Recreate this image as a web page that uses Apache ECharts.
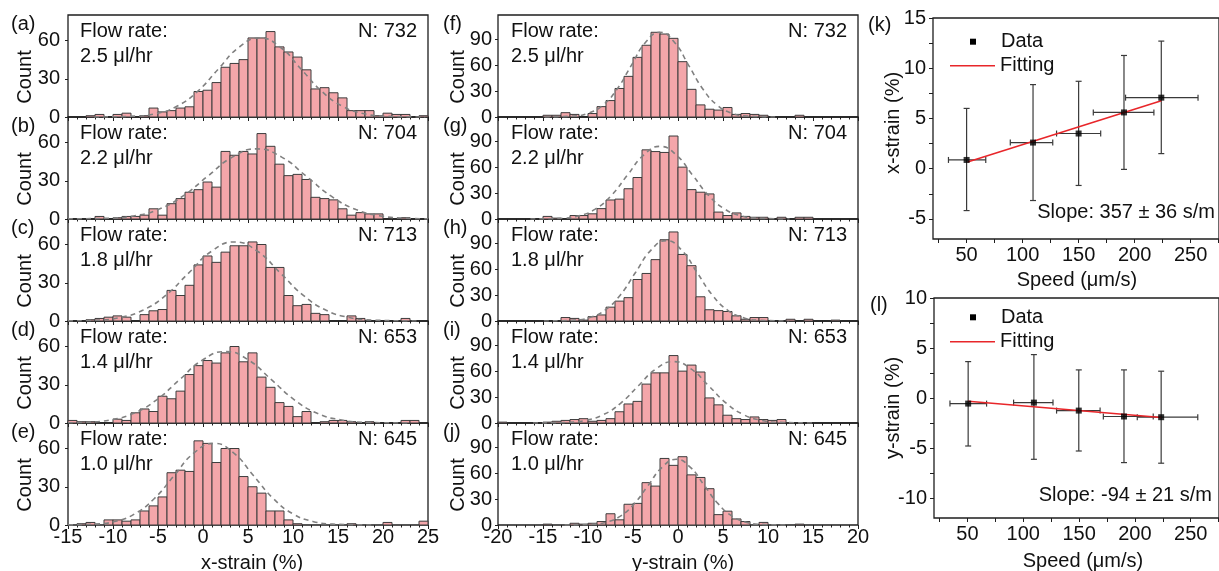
<!DOCTYPE html>
<html><head><meta charset="utf-8">
<script src="https://cdn.jsdelivr.net/npm/echarts@6/dist/echarts.min.js"></script>
<style>html,body{margin:0;padding:0;background:#fff}#c{width:1219px;height:571px}</style>
</head><body><div id="c"></div>
<script>
// ---------- DATA ----------
// x-strain histograms (bins of 1 %, starting at -15 %)
const xBinStart = -15;
const countsA = [0,0,1,2,0,2,3,0,1,7,4,5,7,8,20,21,27,39,42,45,62,62,67,55,51,47,37,22,23,19,15,5,5,5,1,3,2,2,0,1];
const countsB = [0,0,0,2,0,1,2,2,3,8,3,12,16,21,23,29,25,53,50,53,51,67,57,43,34,35,31,17,16,15,8,3,5,4,4,0,0,1,0,0];
const countsC = [0,0,1,2,3,4,3,0,5,8,9,24,20,28,44,51,46,54,59,59,62,60,42,42,20,12,13,6,5,0,0,4,2,0,0,0,0,2,0,0];
const countsD = [2,1,1,0,0,3,2,8,11,9,21,19,25,38,45,49,47,55,60,48,55,36,28,16,13,5,9,0,1,2,2,1,0,1,0,0,0,2,2,0];
const countsE = [0,1,2,0,4,4,3,4,11,15,22,41,43,42,66,64,49,60,60,38,30,25,11,11,4,1,0,0,0,0,0,1,0,0,0,2,0,0,0,3];
// y-strain histograms (bins of 1 %, starting at -20 %)
const yBinStart = -20;
const countsF = [0,0,0,0,0,2,2,5,3,0,4,12,19,33,47,69,83,98,96,91,64,32,14,9,8,11,3,4,3,2,0,0,0,2,0,0,0,0,0,0];
const countsG = [0,0,0,0,0,3,1,0,4,4,6,12,22,23,35,48,80,78,77,96,60,34,31,29,8,4,7,3,2,2,0,2,0,2,2,0,0,0,0,0];
const countsH = [0,0,0,0,0,0,0,4,3,1,5,7,16,23,27,48,55,71,94,103,77,64,28,13,12,11,6,2,4,4,0,0,2,0,2,0,0,1,0,0];
const countsI = [1,0,0,0,0,1,2,3,4,5,2,3,5,13,22,25,45,58,58,78,60,67,59,29,21,9,5,4,7,4,3,4,0,0,0,0,0,0,0,0];
const countsJ = [0,0,0,0,0,1,0,0,2,1,2,4,13,6,24,25,49,45,77,69,79,58,55,42,12,16,7,4,0,3,0,0,0,1,0,0,0,0,0,0];
// Gaussian fit curves (dashed)
const fitA = [[-12.1,0],[-7.5,0.7],[-5.2,2.7],[-2.9,8.4],[-0.6,20.1],[1.7,37.6],[4.0,54.7],[6.3,62],[8.6,54.7],[10.9,37.6],[13.2,20.1],[15.5,8.4],[17.8,2.7],[20.1,0.7],[24.7,0]];
const fitB = [[-15,0.1],[-10.5,0.6],[-7.75,2.4],[-5,7.4],[-2.25,17.9],[0.5,33.4],[3.25,48.5],[6,55],[8.75,48.5],[11.5,33.4],[14.25,17.9],[17,7.4],[19.75,2.4],[22.5,0.6],[25,0.1]];
const fitC = [[-15,0.1],[-11.8,0.7],[-9.25,2.7],[-6.7,8.4],[-4.15,20.1],[-1.6,37.6],[0.95,54.7],[3.5,62],[6.05,54.7],[8.6,37.6],[11.15,20.1],[13.7,8.4],[16.25,2.7],[18.8,0.7],[23.9,0]];
const fitD = [[-15,0.2],[-12.8,0.6],[-10.25,2.5],[-7.7,7.6],[-5.15,18.2],[-2.6,34],[-0.05,49.4],[2.5,56],[5.05,49.4],[7.6,34],[10.15,18.2],[12.7,7.6],[15.25,2.5],[17.8,0.6],[22.9,0]];
const fitE = [[-15,0.1],[-12,0.7],[-9.8,2.8],[-7.6,8.7],[-5.4,20.8],[-3.2,38.8],[-1.0,56.5],[1.2,64],[3.4,56.5],[5.6,38.8],[7.8,20.8],[10,8.7],[12.2,2.8],[14.4,0.7],[18.8,0]];
const fitF = [[-14.8,0],[-11.6,1.1],[-10,4.3],[-8.4,13.3],[-6.8,31.8],[-5.2,59.5],[-3.6,86.5],[-2,98],[-0.4,86.5],[1.2,59.5],[2.8,31.8],[4.4,13.3],[6,4.3],[7.6,1.1],[10.8,0]];
const fitG = [[-16.4,0],[-12.8,0.9],[-11,3.7],[-9.2,11.4],[-7.4,27.3],[-5.6,51],[-3.8,74.1],[-2,84],[-0.2,74.1],[1.6,51],[3.4,27.3],[5.2,11.4],[7,3.7],[8.8,0.9],[12.4,0]];
const fitH = [[-14.9,0],[-11.5,1.0],[-9.8,4.1],[-8.1,12.6],[-6.4,30.2],[-4.7,56.4],[-3.0,82],[-1.3,93],[0.4,82],[2.1,56.4],[3.8,30.2],[5.5,12.6],[7.2,4.1],[8.9,1.0],[12.3,0]];
const fitI = [[-16.1,0],[-12.2,0.8],[-10.25,3.1],[-8.3,9.6],[-6.35,23.1],[-4.4,43.1],[-2.45,62.6],[-0.5,71],[1.45,62.6],[3.4,43.1],[5.35,23.1],[7.3,9.6],[9.25,3.1],[11.2,0.8],[15.1,0]];
const fitJ = [[-12.6,0],[-9.5,0.8],[-7.95,3.3],[-6.4,10.3],[-4.85,24.7],[-3.3,46.1],[-1.75,67],[-0.2,76],[1.35,67],[2.9,46.1],[4.45,24.7],[6.0,10.3],[7.55,3.3],[9.1,0.8],[12.2,0]];
const flowRates = ['2.5','2.2','1.8','1.4','1.0'];
const cellCounts = ['732','704','713','653','645'];
const xTickLabelsHist = [-15,-10,-5,0,5,10,15,20,25];
const yTickLabelsHist = [-20,-15,-10,-5,0,5,10,15,20];
// (k) x-strain vs speed
const speedK   = [50.0, 109.3, 150.0, 190.5, 223.8];
const speedLoK = [33.8, 89.0, 130.3, 163.1, 191.9];
const speedHiK = [67.1, 126.9, 169.7, 217.2, 256.6];
const xStrain   = [0.87, 2.6, 3.5, 5.6, 7.07];
const xStrainLo = [-4.17, -3.17, -1.67, -0.07, 1.5];
const xStrainHi = [6.0, 8.37, 8.7, 11.27, 12.7];
const fitK = [[50.9,0.66],[223.8,6.76]];
// (l) y-strain vs speed
const speedL   = [50.6, 109.5, 149.7, 190.2, 223.5];
const speedLoL = [34.3, 91.3, 129.8, 171.7, 202.1];
const speedHiL = [67.1, 126.6, 168.8, 216.4, 256.3];
const yStrain   = [-0.56, -0.46, -1.26, -1.85, -1.92];
const yStrainLo = [-4.8, -6.13, -5.3, -6.46, -6.52];
const yStrainHi = [3.64, 4.34, 2.81, 2.81, 2.68];
const fitL = [[50.6,-0.33],[223.5,-1.95]];
const speedTicks = [50,100,150,200,250];

// ---------- CHART ----------
const FONT = 'Liberation Sans';
const TXT = '#111';
const BORDER = '#1e1e1e';
const chart = echarts.init(document.getElementById('c'), null, {renderer:'canvas'});

const tops = [15,117,219,321,423];
const PH = 102;
const grids = [], xAxes = [], yAxes = [], series = [], graphics = [];
const histSets = [
  [countsA,fitA],[countsB,fitB],[countsC,fitC],[countsD,fitD],[countsE,fitE],
  [countsF,fitF],[countsG,fitG],[countsH,fitH],[countsI,fitI],[countsJ,fitJ]
];
const letters = ['(a)','(b)','(c)','(d)','(e)','(f)','(g)','(h)','(i)','(j)'];

function txt(text, x, y, align, opt) {
  return Object.assign({type:'text', x:x, y:y, z:100, style:{text:text, fontSize:20, fontFamily:FONT, fill:TXT, align:align||'left', verticalAlign:'middle'}}, opt||{});
}

histSets.forEach((set, i) => {
  const col = i < 5 ? 0 : 1;
  const row = i % 5;
  const left = col === 0 ? 68 : 498;
  const top = tops[row];
  const start = col === 0 ? xBinStart : yBinStart;
  const labels = col === 0 ? xTickLabelsHist : yTickLabelsHist;
  grids.push({left:left, top:top, width:360, height:PH, show:true, borderColor:BORDER, borderWidth:1.3, backgroundColor:'transparent'});
  xAxes.push({type:'value', gridIndex:i, min:labels[0], max:labels[labels.length-1], interval:5,
    axisLine:{show:false, onZero:false}, splitLine:{show:false},
    axisTick:{show:true, length:4, lineStyle:{color:BORDER, width:1}},
    minorTick:{show:true, splitNumber:5, length:2.5, lineStyle:{color:BORDER, width:1}},
    axisLabel:{show: row === 4, fontSize:20, fontFamily:FONT, color:TXT, margin:2}});
  yAxes.push({type:'value', gridIndex:i, min:0, max: col === 0 ? 80 : 118, interval:30,
    axisLine:{show:false, onZero:false}, splitLine:{show:false},
    axisTick:{show:true, length:3, lineStyle:{color:BORDER}},
    axisLabel:{fontSize:20, fontFamily:FONT, color:TXT, margin: col === 0 ? 8 : 6, showMaxLabel:false}});
  const counts = set[0];
  const data = [];
  counts.forEach((c, k) => { if (c > 0) data.push([start + k, start + k + 1, c]); });
  series.push({type:'custom', xAxisIndex:i, yAxisIndex:i, data:data, encode:{x:[0,1], y:2}, z:2,
    renderItem:(params, api) => {
      const p0 = api.coord([api.value(0), api.value(2)]);
      const p1 = api.coord([api.value(1), 0]);
      return {type:'rect', shape:{x:p0[0], y:p0[1], width:p1[0]-p0[0], height:p1[1]-p0[1]},
        style:{fill:'#f4a6aa', stroke:'#3c3c3c', lineWidth:1}};
    }});
  series.push({type:'line', xAxisIndex:i, yAxisIndex:i, data:set[1], smooth:true, showSymbol:false, symbol:'none', z:3,
    lineStyle:{color:'#808080', width:1.6, type:[5,4]}});
  // texts
  const tx = col === 0 ? 80 : 511;
  const nx = col === 0 ? 417 : 847;
  graphics.push(txt('Flow rate:', tx, top + 16, 'left'));
  graphics.push(txt(flowRates[row] + ' \u03bcl/hr', tx, top + 41, 'left'));
  graphics.push(txt('N: ' + cellCounts[row], nx, top + 16, 'right'));
  graphics.push(txt(letters[i], col === 0 ? 11 : 443, top + 9, 'left'));
  graphics.push(txt('Count', col === 0 ? 25 : 458, top + 62, 'center', {rotation: Math.PI/2}));
});
graphics.push(txt('x-strain (%)', 252, 563, 'center'));
graphics.push(txt('y-strain (%)', 683, 563, 'center'));

// right panels
const rightPanels = [
  {top:18, h:221, left:933, ymin:-7, ymax:15, yl:[-5,0,5,10,15],
   sp:speedK, lo:speedLoK, hi:speedHiK, v:xStrain, vlo:xStrainLo, vhi:xStrainHi, fit:fitK},
  {top:298, h:220, left:934, ymin:-12, ymax:10, yl:[-10,-5,0,5,10],
   sp:speedL, lo:speedLoL, hi:speedHiL, v:yStrain, vlo:yStrainLo, vhi:yStrainHi, fit:fitL}
];
rightPanels.forEach((p, j) => {
  const gi = 10 + j;
  grids.push({left:p.left, top:p.top, width:300, height:p.h, show:true, borderColor:BORDER, borderWidth:1.3, backgroundColor:'transparent'});
  const xt = [];
  for (let v = 25; v <= 275; v += 25) xt.push(v);
  xAxes.push({type:'value', gridIndex:gi, min:20, max:20 + 300/1.175,
    axisLine:{show:false, onZero:false}, splitLine:{show:false},
    axisTick:{show:true, length:4, customValues:xt, lineStyle:{color:BORDER}},
    axisLabel:{fontSize:20, fontFamily:FONT, color:TXT, margin:6, customValues:speedTicks}});
  const yt = [];
  for (let v = p.yl[0]; v <= p.ymax; v += 2.5) yt.push(v);
  yAxes.push({type:'value', gridIndex:gi, min:p.ymin, max:p.ymax,
    axisLine:{show:false, onZero:false}, splitLine:{show:false},
    axisTick:{show:true, length:4, customValues:yt, lineStyle:{color:BORDER}},
    axisLabel:{fontSize:20, fontFamily:FONT, color:TXT, margin:7, customValues:p.yl}});
  const eb = p.sp.map((s, k) => [s, p.v[k], p.lo[k], p.hi[k], p.vlo[k], p.vhi[k]]);
  series.push({type:'custom', xAxisIndex:gi, yAxisIndex:gi, data:eb, encode:{x:0, y:1}, z:2,
    renderItem:(params, api) => {
      const x = api.value(0), y = api.value(1);
      const pl = api.coord([api.value(2), y]), pr = api.coord([api.value(3), y]);
      const pb = api.coord([x, api.value(4)]), pt = api.coord([x, api.value(5)]);
      const c = 3;
      const st = {stroke:'#3a3a3a', lineWidth:1.2};
      const L = (x1,y1,x2,y2) => ({type:'line', shape:{x1:x1,y1:y1,x2:x2,y2:y2}, style:st});
      return {type:'group', children:[
        L(pl[0],pl[1],pr[0],pr[1]), L(pl[0],pl[1]-c,pl[0],pl[1]+c), L(pr[0],pr[1]-c,pr[0],pr[1]+c),
        L(pb[0],pb[1],pt[0],pt[1]), L(pb[0]-c,pb[1],pb[0]+c,pb[1]), L(pt[0]-c,pt[1],pt[0]+c,pt[1])
      ]};
    }});
  series.push({type:'line', xAxisIndex:gi, yAxisIndex:gi, data:p.fit, showSymbol:false, symbol:'none', z:3,
    lineStyle:{color:'#e8262a', width:1.6}});
  series.push({type:'scatter', xAxisIndex:gi, yAxisIndex:gi, data:p.sp.map((s,k)=>[s,p.v[k]]), symbol:'rect', symbolSize:6, z:4,
    itemStyle:{color:'#000'}});
});
// right texts
graphics.push(txt('(k)', 868, 25, 'left'));
graphics.push(txt('(l)', 870, 305, 'left'));
graphics.push(txt('x-strain (%)', 893, 123, 'center', {rotation: Math.PI/2}));
graphics.push(txt('y-strain (%)', 893, 408, 'center', {rotation: Math.PI/2}));
graphics.push(txt('Speed (\u03bcm/s)', 1077, 280, 'center'));
graphics.push(txt('Speed (\u03bcm/s)', 1083, 561, 'center'));
graphics.push(txt('Slope: 357 \u00b1 36 s/m', 1215, 212, 'right'));
graphics.push(txt('Slope: -94 \u00b1 21 s/m', 1212, 495, 'right'));
[[41.7,65.7],[317.3,341.7]].forEach(yy => {
  graphics.push({type:'rect', z:100, shape:{x:970, y:yy[0]-3, width:6, height:6}, style:{fill:'#000'}});
  graphics.push(txt('Data', 1001, yy[0], 'left'));
  graphics.push({type:'line', z:100, shape:{x1:950, y1:yy[1], x2:995, y2:yy[1]}, style:{stroke:'#e8262a', lineWidth:1.6}});
  graphics.push(txt('Fitting', 1000, yy[1], 'left'));
});

chart.setOption({
  animation:false,
  backgroundColor:'#fff',
  grid:grids, xAxis:xAxes, yAxis:yAxes, series:series, graphic:graphics
});
</script></body></html>
